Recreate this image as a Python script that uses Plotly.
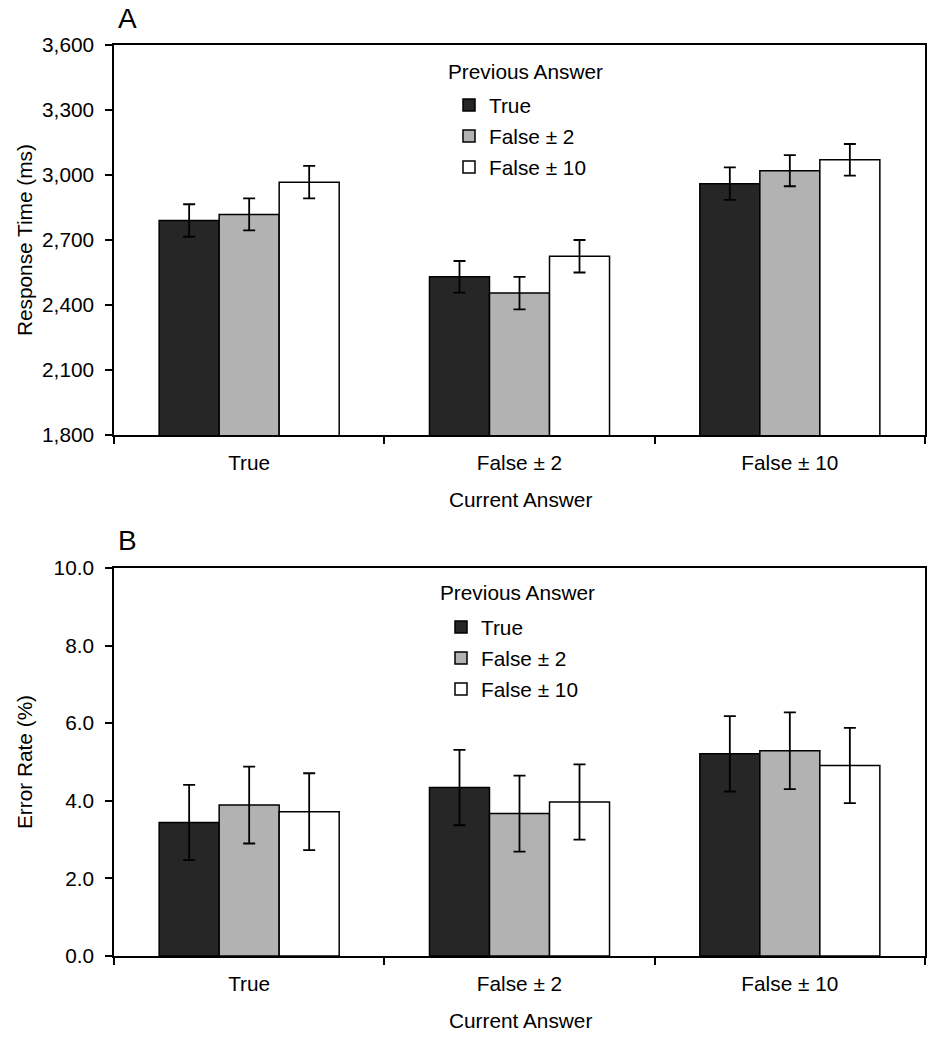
import plotly.graph_objects as go

# ---------------- data ----------------
categories = ["True", "False ± 2", "False ± 10"]          # Current Answer
series_names = ["True", "False ± 2", "False ± 10"]        # Previous Answer

# Panel A: response time (ms)
rt_prev_true = [2790, 2530, 2960]
rt_prev_f2 = [2818, 2455, 3020]
rt_prev_f10 = [2967, 2625, 3070]
rt_err_prev_true = [75, 73, 75]
rt_err_prev_f2 = [74, 75, 72]
rt_err_prev_f10 = [75, 75, 73]

# Panel B: error rate (%)
er_prev_true = [3.44, 4.34, 5.21]
er_prev_f2 = [3.89, 3.67, 5.29]
er_prev_f10 = [3.72, 3.97, 4.91]
er_err_prev_true = [0.97, 0.97, 0.97]
er_err_prev_f2 = [0.99, 0.98, 0.99]
er_err_prev_f10 = [0.99, 0.97, 0.97]

rt_tickvals = [1800, 2100, 2400, 2700, 3000, 3300, 3600]
er_tickvals = [0, 2, 4, 6, 8, 10]

# ---------------- style ----------------
colors = ["#262626", "#b2b2b2", "#ffffff"]
FONT = "Liberation Sans, Arial, sans-serif"
FS = 20.8
W, H = 939, 1050
ML, MR, MT, MB = 114, 14, 45, 94
PW, PH = W - ML - MR, H - MT - MB


def py(y):  # pixel y -> paper y
    return (H - MB - y) / PH


def px(x):  # pixel x -> paper x
    return (x - ML) / PW


fig = go.Figure()

rt_vals = [rt_prev_true, rt_prev_f2, rt_prev_f10]
rt_errs = [rt_err_prev_true, rt_err_prev_f2, rt_err_prev_f10]
er_vals = [er_prev_true, er_prev_f2, er_prev_f10]
er_errs = [er_err_prev_true, er_err_prev_f2, er_err_prev_f10]

for i, name in enumerate(series_names):
    fig.add_trace(go.Bar(
        x=categories, y=rt_vals[i], name=name,
        marker=dict(color=colors[i], line=dict(color="black", width=1.5)),
        error_y=dict(type="data", array=rt_errs[i], color="black", thickness=1.8, width=6),
        xaxis="x", yaxis="y", legend="legend", legendgroup="a%d" % i,
    ))
for i, name in enumerate(series_names):
    fig.add_trace(go.Bar(
        x=categories, y=er_vals[i], name=name,
        marker=dict(color=colors[i], line=dict(color="black", width=1.5)),
        error_y=dict(type="data", array=er_errs[i], color="black", thickness=1.8, width=6),
        xaxis="x2", yaxis="y2", legend="legend2", legendgroup="b%d" % i,
    ))

xcommon = dict(type="category", tickson="boundaries", ticks="outside", ticklen=7, tickwidth=1.5,
               tickcolor="black", showline=True, linecolor="black", linewidth=1.5, mirror=True,
               showgrid=False, tickfont=dict(size=FS, color="black"), fixedrange=True,
               ticklabelstandoff=8)
ycommon = dict(ticks="outside", ticklen=7, tickwidth=1.5, tickcolor="black", showline=True,
               linecolor="black", linewidth=1.5, mirror=True, showgrid=False, zeroline=False,
               tickfont=dict(size=FS, color="black"), fixedrange=True, ticklabelstandoff=7)

legcommon = dict(xref="container", yref="container", xanchor="left", yanchor="top",
                 bgcolor="rgba(0,0,0,0)", borderwidth=0, font=dict(size=FS, color="black"),
                 tracegroupgap=1, itemclick=False, itemdoubleclick=False)

fig.update_layout(
    width=W, height=H,
    margin=dict(l=ML, r=MR, t=MT, b=MB, autoexpand=False),
    paper_bgcolor="white", plot_bgcolor="white",
    font=dict(family=FONT, size=FS, color="black"),
    barmode="group", bargap=0.334, bargroupgap=0,
    showlegend=True,
    xaxis=dict(domain=[0, 1], anchor="y", **xcommon),
    yaxis=dict(domain=[py(435), 1], anchor="x", range=[1800, 3600], tickvals=rt_tickvals,
               tickformat=",", **ycommon),
    xaxis2=dict(domain=[0, 1], anchor="y2", **xcommon),
    yaxis2=dict(domain=[0, py(568)], anchor="x2", range=[0, 10], tickvals=er_tickvals,
                tickformat=".1f", **ycommon),
    legend=dict(x=449 / W, y=1 - 85 / H, **legcommon),
    legend2=dict(x=441 / W, y=1 - 607 / H, **legcommon),
)

ann = [
    ("A", 116, 18, "left", 0, 28),
    ("B", 116, 540, "left", 0, 28),
    ("Response Time (ms)", 24, 240, "center", -90, FS),
    ("Error Rate (%)", 24, 762, "center", -90, FS),
    ("Current Answer", 520, 500, "center", 0, FS),
    ("Current Answer", 520, 1021, "center", 0, FS),
    ("Previous Answer", 446, 71, "left", 0, FS),
    ("Previous Answer", 438, 593, "left", 0, FS),
]
for text, x, y, xa, ang, size in ann:
    fig.add_annotation(text=text, x=px(x), y=py(y), xref="paper", yref="paper",
                       xanchor=xa, yanchor="middle", showarrow=False, textangle=ang,
                       font=dict(size=size, color="black", family=FONT))

fig.write_html("out.html", config={"displayModeBar": False},
               post_script="document.body.style.margin='0';document.body.style.padding='0';")
